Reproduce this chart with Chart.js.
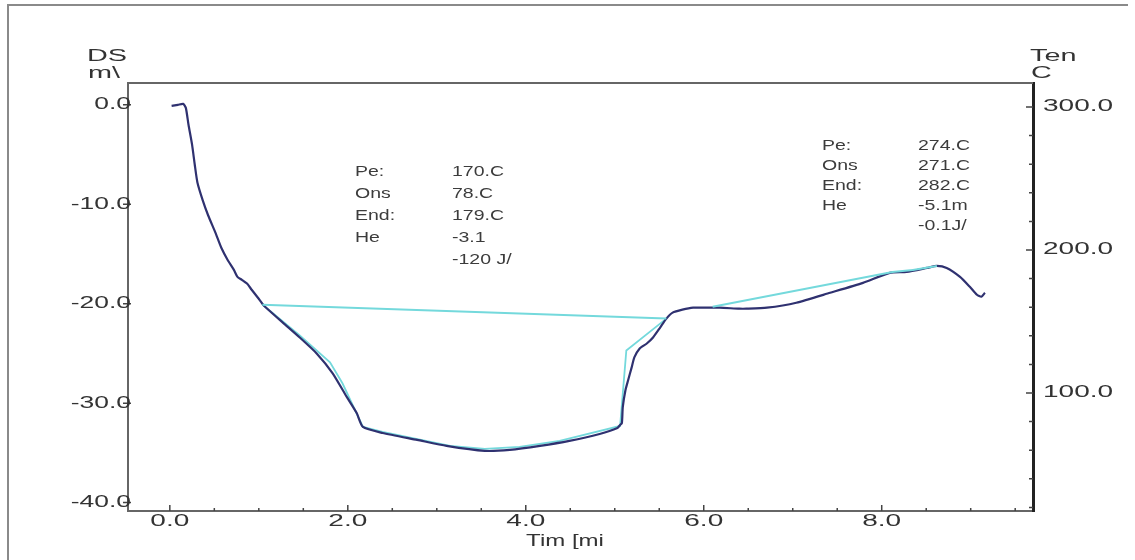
<!DOCTYPE html>
<html lang="en">
<head>
  <meta charset="UTF-8">
  <title>DSC curve</title>
  <script src="https://cdn.jsdelivr.net/npm/chart.js"></script>
  <style>
    body { margin: 0; background: #fff; }
    .wrap { position: relative; width: 1135px; height: 560px; }
  </style>
</head>
<body>
<div class="wrap"><canvas id="dsc" width="1135" height="560"></canvas></div>

<script>
  // measured DSC signal (time in min, mW)
  const dscTime = [0.02, 0.09, 0.15, 0.18, 0.21, 0.25, 0.28, 0.31, 0.37, 0.43, 0.51, 0.58, 0.65, 0.72, 0.76, 0.81, 0.87, 0.92, 0.99, 1.04,
    1.07, 1.27, 1.46, 1.65, 1.83, 1.99, 2.10, 2.17, 2.39, 2.78, 3.11, 3.54, 3.82, 4.16, 4.49, 4.83, 5.03, 5.06,
    5.08, 5.09, 5.12, 5.15, 5.19, 5.22, 5.28, 5.36, 5.43, 5.51, 5.58, 5.65, 5.76, 5.88, 6.03, 6.18, 6.40,
    6.48, 6.71, 7.04, 7.42, 7.79, 8.09, 8.28, 8.51, 8.62, 8.73, 8.88, 8.99, 9.07, 9.12, 9.16];
  const dscValue = [-0.1, 0.0, 0.1, -0.3, -2.0, -4.0, -6.0, -7.8, -9.6, -11.1, -12.8, -14.4, -15.6, -16.6, -17.3, -17.6, -18.0, -18.6, -19.4, -20.0,
    -20.3, -21.9, -23.4, -25.0, -27.0, -29.4, -31.0, -32.4, -33.0, -33.7, -34.3, -34.8, -34.7, -34.3, -33.8, -33.1, -32.5, -32.2,
    -32.0, -30.4, -28.7, -27.7, -26.4, -25.4, -24.5, -24.0, -23.4, -22.4, -21.5, -20.9, -20.6, -20.4, -20.4, -20.4, -20.5,
    -20.5, -20.4, -19.9, -18.9, -17.9, -16.9, -16.8, -16.4, -16.2, -16.4, -17.3, -18.3, -19.1, -19.3, -18.9];

  // peak 1 evaluation trace
  const fitTime = [1.04, 1.07, 1.46, 1.80, 1.94, 2.17, 2.39, 3.15, 3.54, 3.93, 4.38, 5.06, 5.13, 5.58];
  const fitValue = [-20.1, -20.3, -23.2, -25.9, -28.0, -32.4, -32.9, -34.3, -34.6, -34.4, -33.8, -32.3, -24.7, -21.5];

  // baselines
  const base1Time = [1.04, 5.58];
  const base1Value = [-20.1, -21.5];
  const base2Time = [6.10, 8.12, 8.35, 8.62];
  const base2Value = [-20.3, -16.8, -16.6, -16.2];

  const leftTicks = [-40, -30, -20, -10, 0];
  const rightTicks = [100, 200, 300];
  const rightMinor = [20, 40, 60, 80, 100, 120, 140, 160, 180, 200, 220, 240, 260, 280, 300];
  const xTicks = [0, 2, 4, 6, 8];
  const xMinor = [0.5, 1, 1.5, 2.5, 3, 3.5, 4.5, 5, 5.5, 6.5, 7, 7.5, 8.5, 9, 9.5];

  const peak1Labels = ['Pe:', 'Ons', 'End:', 'He', ''];
  const peak1Values = ['170.C', '78.C', '179.C', '-3.1', '-120 J/'];
  const peak2Labels = ['Pe:', 'Ons', 'End:', 'He', ''];
  const peak2Values = ['274.C', '271.C', '282.C', '-5.1m', '-0.1J/'];

  const pts = (xs, ys) => xs.map((x, i) => ({ x: x, y: ys[i] }));

  const FONT = '"Liberation Sans", Arial, sans-serif';
  const TXT = '#333';

  // the source picture has its lettering stretched sideways
  function wideText(c, txt, x, y, align, sx) {
    c.save();
    c.translate(x, y);
    c.scale(sx, 1);
    c.textAlign = align;
    c.fillText(txt, 0, 0);
    c.restore();
  }

  const decor = {
    id: 'decor',
    beforeDraw(chart) {
      const c = chart.ctx;
      c.save();
      c.strokeStyle = '#8a8a8a';
      c.lineWidth = 2;
      c.beginPath();
      c.moveTo(8, 560); c.lineTo(8, 5); c.lineTo(1128, 5);
      c.stroke();
      c.restore();
    },
    afterDraw(chart) {
      const c = chart.ctx, a = chart.chartArea;
      const sx = chart.scales.x, sy = chart.scales.y, sy2 = chart.scales.y2;
      c.save();
      // top frame line
      c.strokeStyle = '#666';
      c.lineWidth = 2;
      c.beginPath(); c.moveTo(a.left, a.top); c.lineTo(a.right, a.top); c.stroke();
      // ticks
      c.lineWidth = 1.5;
      c.strokeStyle = '#444';
      c.beginPath();
      xTicks.forEach(v => { const p = sx.getPixelForValue(v); c.moveTo(p, a.bottom); c.lineTo(p, a.bottom - 6); });
      xMinor.forEach(v => { const p = sx.getPixelForValue(v); c.moveTo(p, a.bottom); c.lineTo(p, a.bottom - 3); });
      leftTicks.forEach(v => { const p = sy.getPixelForValue(v); c.moveTo(a.left - 5, p); c.lineTo(a.left + 3, p); });
      rightMinor.forEach(v => {
        const p = sy2.getPixelForValue(v);
        const len = rightTicks.includes(v) ? 7 : 4;
        c.moveTo(a.right, p); c.lineTo(a.right - len, p);
      });
      c.stroke();

      // tick labels
      c.fillStyle = TXT;
      c.font = '16px ' + FONT;
      c.textBaseline = 'middle';
      sy.ticks.forEach(t => wideText(c, t.value.toFixed(1), a.left + 3, sy.getPixelForValue(t.value), 'right', 1.65));
      sy2.ticks.forEach(t => wideText(c, t.value.toFixed(1), a.right + 10, sy2.getPixelForValue(t.value), 'left', 1.75));
      sx.ticks.forEach(t => wideText(c, t.value.toFixed(1), sx.getPixelForValue(t.value), a.bottom + 11, 'center', 1.75));

      // axis titles
      c.textBaseline = 'alphabetic';
      wideText(c, 'DS', 87, 61, 'left', 1.8);
      wideText(c, 'm\\', 88, 78, 'left', 1.8);
      wideText(c, 'Ten', 1030, 61, 'left', 1.8);
      wideText(c, 'C', 1031, 78, 'left', 1.8);
      wideText(c, 'Tim [mi', 565, 546, 'center', 1.5);

      // peak annotations
      c.font = '15px ' + FONT;
      c.fillStyle = '#3c3c3c';
      c.textBaseline = 'middle';
      peak1Labels.forEach((t, i) => {
        wideText(c, t, 355, 172 + i * 22, 'left', 1.3);
        wideText(c, peak1Values[i], 452, 172 + i * 22, 'left', 1.3);
      });
      peak2Labels.forEach((t, i) => {
        wideText(c, t, 822, 146 + i * 20, 'left', 1.3);
        wideText(c, peak2Values[i], 918, 146 + i * 20, 'left', 1.3);
      });
      c.restore();
    }
  };

  new Chart(document.getElementById('dsc'), {
    type: 'scatter',
    data: {
      datasets: [
        { label: 'base1', data: pts(base1Time, base1Value), borderColor: '#74d9dc', borderWidth: 2, showLine: true, pointRadius: 0 },
        { label: 'base2', data: pts(base2Time, base2Value), borderColor: '#74d9dc', borderWidth: 2, showLine: true, pointRadius: 0 },
        { label: 'DSC', data: pts(dscTime, dscValue), borderColor: '#2f3170', borderWidth: 2.2, showLine: true, pointRadius: 0, tension: 0.2 },
        { label: 'fit', data: pts(fitTime, fitValue), borderColor: '#74d9dc', borderWidth: 1.8, showLine: true, pointRadius: 0 }
      ]
    },
    options: {
      responsive: false,
      animation: false,
      layout: { padding: { top: 83, left: 0, right: 0, bottom: 0 } },
      plugins: { legend: { display: false }, tooltip: { enabled: false } },
      scales: {
        x: {
          type: 'linear', min: -0.47, max: 9.7,
          afterBuildTicks: s => { s.ticks = xTicks.map(v => ({ value: v })); },
          afterFit: s => { s.height = 49; },
          grid: { display: false, drawTicks: false },
          border: { display: true, color: '#666', width: 2 },
          ticks: { display: false }
        },
        y: {
          position: 'left', min: -40.85, max: 2.2,
          afterBuildTicks: s => { s.ticks = leftTicks.map(v => ({ value: v })); },
          afterFit: s => { s.width = 128; },
          grid: { display: false, drawTicks: false },
          border: { display: true, color: '#666', width: 2 },
          ticks: { display: false }
        },
        y2: {
          position: 'right', min: 17.5, max: 316.8,
          afterBuildTicks: s => { s.ticks = rightTicks.map(v => ({ value: v })); },
          afterFit: s => { s.width = 102; },
          grid: { display: false, drawTicks: false },
          border: { display: true, color: '#222', width: 3 },
          ticks: { display: false }
        }
      }
    },
    plugins: [decor]
  });
</script>
</body>
</html>
